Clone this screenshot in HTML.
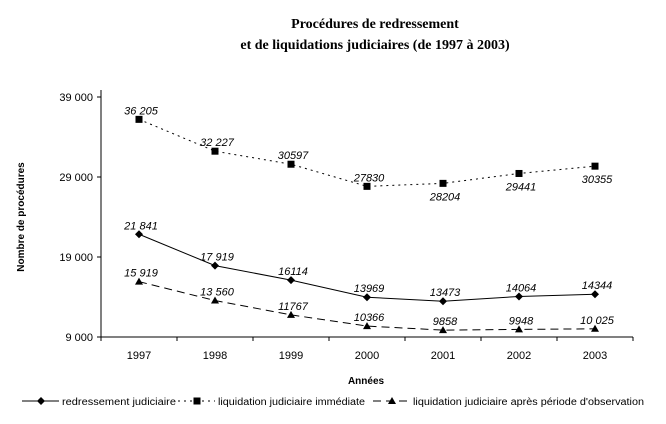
<!DOCTYPE html>
<html><head><meta charset="utf-8"><style>
body{margin:0;background:#fff;width:666px;height:419px;overflow:hidden}
svg{font-family:"Liberation Sans",sans-serif}
</style></head><body>
<svg id="c" width="666" height="419" viewBox="0 0 666 419" xmlns="http://www.w3.org/2000/svg">
<text x="375" y="28" text-anchor="middle" font-family="Liberation Serif,serif" font-weight="bold" font-size="14">Procédures de redressement</text>
<text x="375" y="49" text-anchor="middle" font-family="Liberation Serif,serif" font-weight="bold" font-size="14">et de liquidations judiciaires (de 1997 à 2003)</text>
<text transform="translate(24,217) rotate(-90)" text-anchor="middle" font-size="10" font-weight="bold">Nombre de procédures</text>
<text x="366" y="384" text-anchor="middle" font-size="10" font-weight="bold">Années</text>
<g id="axes"></g><g id="series"></g><g id="legend"></g>
</svg>
<script>
const years=["1997","1998","1999","2000","2001","2002","2003"];
const redressement=[21841,17919,16114,13969,13473,14064,14344];
const redressementLabels=["21 841","17 919","16114","13969","13473","14064","14344"];
const liquidation=[36205,32227,30597,27830,28204,29441,30355];
const liquidationLabels=["36 205","32 227","30597","27830","28204","29441","30355"];
const apres=[15919,13560,11767,10366,9858,9948,10025];
const apresLabels=["15 919","13 560","11767","10366","9858","9948","10 025"];
const yTicks=[9000,19000,29000,39000];
const yTickLabels=["9 000","19 000","29 000","39 000"];
const NS="http://www.w3.org/2000/svg";
const x0=101,cw=76,yMin=9000,yMax=39000,yBot=337,yTop=97;
const X=i=>x0+cw*(i+0.5);
const Y=v=>yBot-(v-yMin)/(yMax-yMin)*(yBot-yTop);
function mk(tag,attrs,parent,txt){const e=document.createElementNS(NS,tag);for(const k in attrs)e.setAttribute(k,attrs[k]);if(txt!==undefined)e.textContent=txt;parent.appendChild(e);return e;}
const ax=document.getElementById('axes');
let e=mk('line',{x1:x0,y1:90,x2:x0,y2:yBot,stroke:'#000'},ax);


e=mk('line',{x1:x0,y1:yBot,x2:x0+cw*7,y2:yBot,stroke:'#000'},ax);


yTicks.forEach((v,i)=>{mk('line',{x1:x0-4,y1:Y(v),x2:x0,y2:Y(v),stroke:'#000'},ax);
e=mk('text',{x:x0-8,y:Y(v)+4,'text-anchor':'end','font-size':'11'},ax,yTickLabels[i]);

});
for(let i=0;i<=7;i++)mk('line',{x1:x0+cw*i,y1:yBot,x2:x0+cw*i,y2:yBot+4,stroke:'#000'},ax);
years.forEach((y,i)=>{e=mk('text',{x:X(i),y:yBot+22,'text-anchor':'middle','font-size':'11'},ax,y);

});
function marker(g,type,cx,cy){
 if(type==='d')return mk('polygon',{points:`${cx},${cy-4} ${cx+4},${cy} ${cx},${cy+4} ${cx-4},${cy}`,fill:'#000'},g);
 if(type==='s')return mk('rect',{x:cx-3.5,y:cy-3.5,width:7,height:7,fill:'#000'},g);
 return mk('polygon',{points:`${cx},${cy-4} ${cx+4},${cy+3} ${cx-4},${cy+3}`,fill:'#000'},g);}
const sg=document.getElementById('series');
function series(name,vals,labs,dash,type,below){
 const g=mk('g',{},sg);
 
 
 const p=mk('polyline',{points:vals.map((v,i)=>X(i)+','+Y(v)).join(' '),fill:'none',stroke:'#000','stroke-dasharray':dash},g);
 
 
 vals.forEach((v,i)=>{const m=marker(g,type,X(i),Y(v));
  
  
  const t=mk('text',{x:X(i)+2,y:Y(v)+(below[i]?17:-5),'text-anchor':'middle','font-size':'11','font-style':'italic'},g,labs[i]);
  
  });}
series('liquidation-immediate',liquidation,liquidationLabels,'2,4','s',[0,0,0,0,1,1,1]);
series('redressement-judiciaire',redressement,redressementLabels,'','d',[0,0,0,0,0,0,0]);
series('liquidation-apres-observation',apres,apresLabels,'8,5','t',[0,0,0,0,0,0,0]);
const lg=document.getElementById('legend');
const items=[['','d','redressement judiciaire',22,114],['2,4','s','liquidation judiciaire immédiate',178,147],['8,5','t','liquidation judiciaire après période d\'observation',373,231]];
items.forEach(([d,t,l,x,tl])=>{const g=mk('g',{},lg);
 
 
 mk('line',{x1:x,y1:401,x2:x+37,y2:401,stroke:'#000','stroke-dasharray':d},g);
 marker(g,t,x+19,401);
 mk('text',{x:x+40,y:405,'font-size':'10',textLength:tl,lengthAdjust:'spacingAndGlyphs'},g,l);});
</script>
</body></html>
